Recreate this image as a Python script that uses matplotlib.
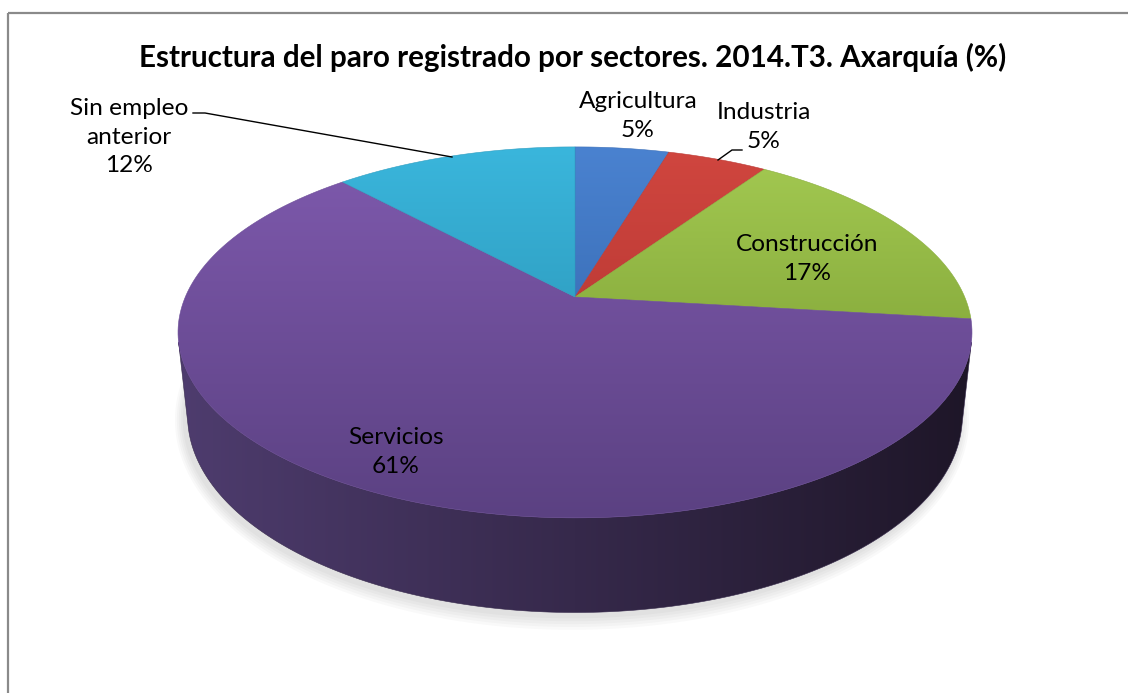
import numpy as np
import matplotlib
matplotlib.use("Agg")
import matplotlib.pyplot as plt
from matplotlib.patches import Polygon
from matplotlib.colors import to_rgb

# ---------------- data ----------------
categories = ["Agricultura", "Industria", "Construcción", "Servicios", "Sin empleo\nanterior"]
values = [4.6, 4.9, 17.4, 61.2, 11.9]
pct_labels = ["5%", "5%", "17%", "61%", "12%"]
title = "Estructura del paro registrado por sectores. 2014.T3. Axarquía (%)"

# ---------------- style ----------------
top_light = ["#4A82D0", "#D0463F", "#A4CA52", "#7F5AAE", "#3AB6DC"]
top_dark = ["#2B5C9F", "#A82E2B", "#6F912A", "#5B4182", "#2486A6"]
side_left = "#4E3C6E"
side_right = "#1E1628"

label_pos = [(638, 116), (764, 127), (807, 259), (396, 452), (129, 137)]
FONT = ["Lato", "DejaVu Sans"]

W, H = 1128, 693
fig = plt.figure(figsize=(W / 100, H / 100), dpi=100)
ax = fig.add_axes([0, 0, 1, 1])

# perspective projection of a flat cylinder (3-D pie)
CX, CY = 575, 297
K = 1816.0
D = 4.66
elev = np.deg2rad(27.3)
DEPTH = 0.243
se, ce = np.sin(elev), np.cos(elev)


def proj(theta, h):
    u = np.sin(theta)
    v = np.cos(theta)
    z = D + v * ce - h * se
    X = K * u / z
    Y = K * (v * se + h * ce) / z
    return CX + X, CY - Y


def grad_fill(poly_xy, c0, c1, direction, lo, hi, zorder):
    patch = Polygon(poly_xy, closed=True, facecolor="none", edgecolor="none", zorder=zorder)
    ax.add_patch(patch)
    n = 256
    t = np.linspace(0, 1, n)
    a = np.array(to_rgb(c0))
    b = np.array(to_rgb(c1))
    cols = a[None, :] * (1 - t[:, None]) + b[None, :] * t[:, None]
    if direction == "v":
        img = cols[:, None, :]
        extent = (poly_xy[:, 0].min() - 2, poly_xy[:, 0].max() + 2, hi, lo)
    else:
        img = cols[None, :, :]
        extent = (lo, hi, poly_xy[:, 1].max() + 2, poly_xy[:, 1].min() - 2)
    im = ax.imshow(img, extent=extent, origin="upper", aspect="auto",
                   interpolation="bilinear", zorder=zorder)
    im.set_clip_path(patch)
    edge = Polygon(poly_xy, closed=True, facecolor="none",
                   edgecolor=tuple((a + b) / 2), linewidth=0.4, zorder=zorder + 0.01)
    ax.add_patch(edge)


fr = np.array(values) / np.sum(values)
bounds = np.concatenate([[0], np.cumsum(fr)]) * 2 * np.pi

# soft shadow
full = np.linspace(0, 2 * np.pi, 400)
for grow in [10, 8, 6, 4, 2]:
    sx, sy = proj(full, -DEPTH)
    cxm = np.mean(sx)
    cym = np.mean(sy)
    gx = cxm + (sx - cxm) * (1 + grow / 400) - 3
    gy = cym + (sy - cym) * (1 + grow / 150) + 3
    ax.add_patch(Polygon(np.column_stack([gx, gy]), closed=True,
                         facecolor="#000000", alpha=0.025, edgecolor="none", zorder=1))

# sides (visible front part of the cylinder)
vis_lo = np.arccos(-1 / (D * ce))
vis_hi = 2 * np.pi - vis_lo
sx_all, _ = proj(full, 0)
xl, xr = sx_all.min(), sx_all.max()
for i in range(len(values)):
    a0 = max(bounds[i], vis_lo)
    a1 = min(bounds[i + 1], vis_hi)
    if a1 <= a0:
        continue
    th = np.linspace(a0, a1, 300)
    tx, ty = proj(th, 0)
    bx, by = proj(th[::-1], -DEPTH)
    poly = np.column_stack([np.concatenate([tx, bx]), np.concatenate([ty, by])])
    grad_fill(poly, side_left, side_right, "h", xl, xr, 2)

# top faces
_, ty_all = proj(full, 0)
ytop, ybot = ty_all.min(), ty_all.max()
for i in range(len(values)):
    th = np.linspace(bounds[i], bounds[i + 1], 200)
    rx, ry = proj(th, 0)
    poly = np.column_stack([np.concatenate([[CX], rx]), np.concatenate([[CY], ry])])
    grad_fill(poly, top_light[i], top_dark[i], "v", ytop, ybot, 3 + i * 0.1)

# labels
for i, (cat, pct) in enumerate(zip(categories, pct_labels)):
    x, y = label_pos[i]
    ax.text(x, y, f"{cat}\n{pct}", ha="center", va="center", multialignment="center",
            fontsize=17.6, family=FONT, color="#000000", linespacing=1.45, zorder=10)

# leader lines
ax.plot([193, 205, 452], [113, 113, 157], color="black", lw=1.0, zorder=9,
        solid_joinstyle="miter")
ax.plot([718, 732, 742], [160, 150, 150], color="black", lw=1.0, zorder=9,
        solid_joinstyle="miter")

# title
ax.text(573, 57, title, ha="center", va="center", fontsize=21.3, fontweight="bold",
        family=FONT, color="#000000", zorder=10)

# chart border (partial frame)
ax.plot([7.5, W], [12.5, 12.5], color="#8a8a8a", lw=1.6, zorder=11, solid_capstyle="butt")
ax.plot([7.5, 7.5], [12.5, H], color="#8a8a8a", lw=1.6, zorder=11, solid_capstyle="butt")

ax.set_xlim(0, W)
ax.set_ylim(H, 0)
ax.axis("off")
fig.savefig("out.png", dpi=100)
